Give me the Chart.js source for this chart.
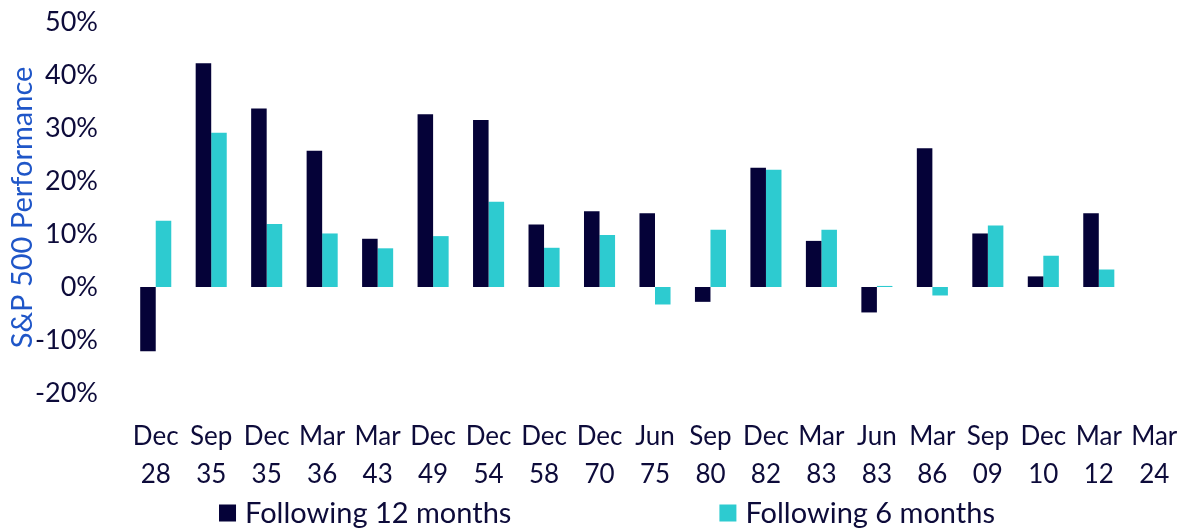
<!DOCTYPE html>
<html>
<head>
<meta charset="utf-8">
<script src="https://cdn.jsdelivr.net/npm/chart.js@4.4.1/dist/chart.umd.min.js"></script>
<style>
  html, body { margin: 0; padding: 0; background: #fff; }
  #wrap { width: 1200px; height: 531px; }
</style>
</head>
<body>
<div id="wrap"><canvas id="perfChart"></canvas></div>
<script>
// Периоды (месяц + год)
const months = ['Dec', 'Sep', 'Dec', 'Mar', 'Mar', 'Dec', 'Dec', 'Dec', 'Dec', 'Jun',
                'Sep', 'Dec', 'Mar', 'Jun', 'Mar', 'Sep', 'Dec', 'Mar', 'Mar'];
const years = ['28', '35', '35', '36', '43', '49', '54', '58', '70', '75',
               '80', '82', '83', '83', '86', '09', '10', '12', '24'];

// Доходность S&P 500, %
const next12m = [-12.1, 42.2, 33.7, 25.7, 9.1, 32.6, 31.5, 11.8, 14.3, 13.9,
                 -2.8, 22.5, 8.7, -4.8, 26.2, 10.1, 2.0, 13.9, null];
const next6m = [12.5, 29.1, 11.9, 10.1, 7.3, 9.6, 16.1, 7.4, 9.8, -3.3,
                10.8, 22.1, 10.8, 0.2, -1.6, 11.6, 5.9, 3.3, null];

const yTicks = [-20, -10, 0, 10, 20, 30, 40, 50];

const seriesNames = ['Following 12 months', 'Following 6 months'];
const darkColor = '#050238';
const cyanColor = '#2dcbd0';
const textColor = '#0d0b3a';

// Легенда с большим промежутком между элементами
const spreadLegend = {
    id: 'spreadLegend',
    afterDraw(chart) {
        const ctx = chart.ctx;
        const box = 17, gap = 9, between = 208, cy = 513;
        ctx.save();
        ctx.font = '29px Lato';
        ctx.textBaseline = 'middle';
        const widths = chart.data.datasets.map(ds => box + gap + ctx.measureText(ds.label).width);
        const total = widths.reduce((a, b) => a + b, 0) + between;
        let x = 607 - total / 2;
        chart.data.datasets.forEach((ds, i) => {
            ctx.fillStyle = ds.backgroundColor;
            ctx.fillRect(x, cy - box / 2, box, box);
            ctx.fillStyle = textColor;
            ctx.fillText(ds.label, x + box + gap, cy + 1);
            x += widths[i] + between;
        });
        ctx.restore();
    }
};

const ctx = document.getElementById('perfChart').getContext('2d');
const perfChart = new Chart(ctx, {
    type: 'bar',
    data: {
        labels: months.map((m, i) => [m, years[i]]),
        datasets: [{
            label: seriesNames[0],
            data: next12m,
            backgroundColor: darkColor,
            categoryPercentage: 0.56,
            barPercentage: 1.0
        }, {
            label: seriesNames[1],
            data: next6m,
            backgroundColor: cyanColor,
            categoryPercentage: 0.56,
            barPercentage: 1.0
        }]
    },
    options: {
        responsive: true,
        maintainAspectRatio: false,
        animation: false,
        layout: { padding: { top: 22, right: 18, left: 0, bottom: 39 } },
        plugins: {
            legend: { display: false },
            tooltip: { enabled: false }
        },
        scales: {
            x: {
                grid: { display: false },
                border: { display: false },
                afterFit: scale => { scale.height = 99; },
                ticks: {
                    color: textColor,
                    font: { family: 'Lato', size: 26, lineHeight: 1.46 },
                    padding: 17,
                    maxRotation: 0,
                    autoSkip: false
                }
            },
            y: {
                min: yTicks[0],
                max: yTicks[yTicks.length - 1],
                grid: { display: false },
                border: { display: false },
                afterFit: scale => {
                    scale.width = 128;
                    scale.paddingTop = 0;
                    scale.paddingBottom = 0;
                },
                afterBuildTicks: scale => { scale.ticks = yTicks.map(v => ({ value: v })); },
                ticks: {
                    color: textColor,
                    font: { family: 'Lato', size: 27 },
                    padding: 22,
                    callback: v => v + '%'
                },
                title: {
                    display: true,
                    text: 'S&P 500 Performance',
                    color: '#1f56c8',
                    font: { family: 'Lato', size: 29 },
                    padding: { top: 5, bottom: 0 }
                }
            }
        }
    },
    plugins: [spreadLegend]
});
</script>
</body>
</html>
